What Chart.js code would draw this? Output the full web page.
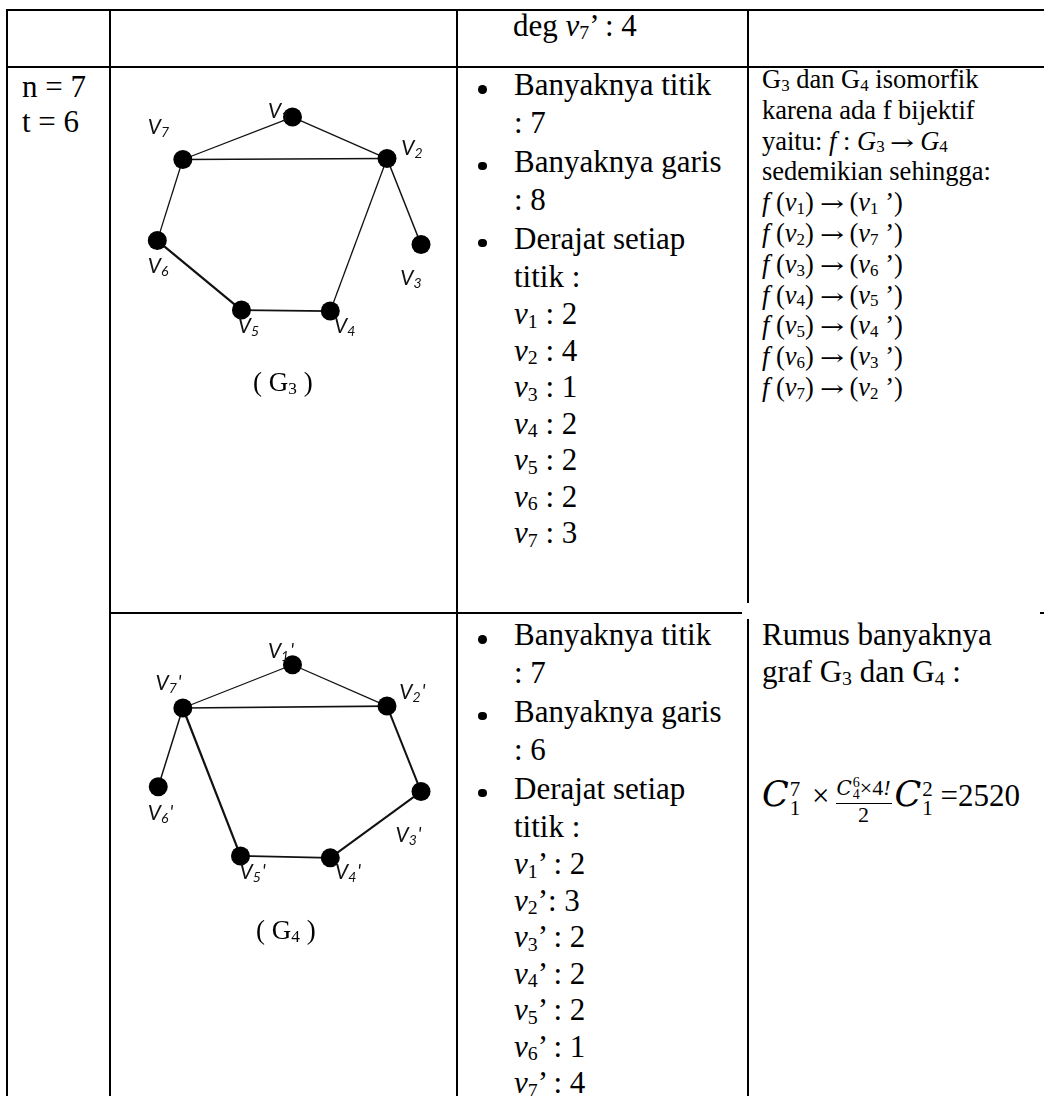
<!DOCTYPE html>
<html>
<head>
<meta charset="utf-8">
<script src="https://cdn.jsdelivr.net/npm/chart.js@4.4.1/dist/chart.umd.min.js"></script>
<style>
html, body { margin: 0; padding: 0; background: #fff; }
body { position: relative; width: 1044px; height: 1096px; overflow: hidden;
       font-family: "Liberation Serif", "Times New Roman", serif; color: #000; }
.ln { position: absolute; background: #000; }
.blk { position: absolute; white-space: nowrap; font-family: "Liberation Serif", serif; }
.sb { font-size: 0.64em; position: relative; top: 0.17em; line-height: 0; }
.ar { display: inline-block; font-family: "DejaVu Serif", serif; font-size: 0.8em; transform: scaleX(1.35); margin: 0 0.42em; }
.c1 { font-size: 31px; line-height: 35px; }
.c3 { font-size: 31px; }
.c3 .a { height: 38.4px; line-height: 38.4px; position: relative; }
.c3 .b { height: 36.5px; line-height: 36.5px; }
.bul { position: absolute; left: -36px; top: 19px; width: 8.5px; height: 8.5px; border-radius: 50%; background: #000; }
.c4 { font-size: 26.5px; }
.c4 div { height: 30.8px; line-height: 30.8px; }
.c4b { font-size: 31px; }
.c4b div { height: 37px; line-height: 37px; }
.cap { position: absolute; font-size: 27px; line-height: 27px; white-space: nowrap; }
canvas { position: absolute; }
.fm { position: absolute; left: 762px; top: 770px; font-size: 31px; line-height: 48px; height: 48px; white-space: nowrap; }
.fm .C { font-family: "DejaVu Serif", serif; font-style: italic; font-size: 35px; }
.fm .Cs { font-family: "DejaVu Serif", serif; font-style: italic; font-size: 20px; }
.scr { display: inline-block; vertical-align: -0.45em; font-size: 21px; line-height: 19px; margin-left: 1px; }
.scr span { display: block; }
.scr.s { font-size: 14px; line-height: 12px; vertical-align: -0.3em; }
.frac { display: inline-block; vertical-align: -0.72em; text-align: center; font-size: 22px; line-height: 22px; margin: 0 3px 0 6px; }
.frac .num { display: block; border-bottom: 1.4px solid #000; padding: 0 1px 2px; }
.frac .den { display: block; }
.fm .x { margin-left: 4px; }
</style>
</head>
<body>

<!-- table rules -->
<div class="ln" style="left:6px;top:9px;width:1038px;height:2px"></div>
<div class="ln" style="left:6px;top:66px;width:1038px;height:2px"></div>
<div class="ln" style="left:6px;top:9px;width:2px;height:1087px"></div>
<div class="ln" style="left:109px;top:9px;width:2px;height:1087px"></div>
<div class="ln" style="left:456px;top:9px;width:2px;height:1087px"></div>
<div class="ln" style="left:747px;top:9px;width:2px;height:594px"></div>
<div class="ln" style="left:747px;top:619px;width:2px;height:477px"></div>
<div class="ln" style="left:109px;top:612px;width:633px;height:2px"></div>
<div class="ln" style="left:1040px;top:612px;width:4px;height:2px"></div>

<!-- column 1 -->
<div class="blk c1" style="left:22px;top:69px">
  <div>n = 7</div>
  <div>t = 6</div>
</div>

<!-- row 1, column 3 -->
<div class="blk c3" style="left:513px;top:8px">
  <div class="b">deg <i>v</i><span class="sb">7</span>’ : 4</div>
</div>

<!-- row 2, column 3 -->
<div class="blk c3" style="left:514px;top:66px">
  <div class="a"><span class="bul"></span>Banyaknya titik</div>
  <div class="a">: 7</div>
  <div class="a"><span class="bul"></span>Banyaknya garis</div>
  <div class="a">: 8</div>
  <div class="a"><span class="bul"></span>Derajat setiap</div>
  <div class="a">titik :</div>
  <div class="b"><i>v</i><span class="sb">1</span> : 2</div>
  <div class="b"><i>v</i><span class="sb">2</span> : 4</div>
  <div class="b"><i>v</i><span class="sb">3</span> : 1</div>
  <div class="b"><i>v</i><span class="sb">4</span> : 2</div>
  <div class="b"><i>v</i><span class="sb">5</span> : 2</div>
  <div class="b"><i>v</i><span class="sb">6</span> : 2</div>
  <div class="b"><i>v</i><span class="sb">7</span> : 3</div>
</div>

<!-- row 3, column 3 -->
<div class="blk c3" style="left:514px;top:616px">
  <div class="a"><span class="bul"></span>Banyaknya titik</div>
  <div class="a">: 7</div>
  <div class="a"><span class="bul"></span>Banyaknya garis</div>
  <div class="a">: 6</div>
  <div class="a"><span class="bul"></span>Derajat setiap</div>
  <div class="a">titik :</div>
  <div class="b"><i>v</i><span class="sb">1</span>’ : 2</div>
  <div class="b"><i>v</i><span class="sb">2</span>’: 3</div>
  <div class="b"><i>v</i><span class="sb">3</span>’ : 2</div>
  <div class="b"><i>v</i><span class="sb">4</span>’ : 2</div>
  <div class="b"><i>v</i><span class="sb">5</span>’ : 2</div>
  <div class="b"><i>v</i><span class="sb">6</span>’ : 1</div>
  <div class="b"><i>v</i><span class="sb">7</span>’ : 4</div>
</div>

<!-- row 2, column 4 -->
<div class="blk c4" style="left:762px;top:64px">
  <div>G<span class="sb">3</span> dan G<span class="sb">4</span> isomorfik</div>
  <div>karena ada f bijektif</div>
  <div>yaitu: <i>f</i> : <i>G</i><span class="sb">3</span><span class="ar">→</span><i>G</i><span class="sb">4</span></div>
  <div>sedemikian sehingga:</div>
  <div><i>f</i> (<i>v</i><span class="sb">1</span>)<span class="ar">→</span>(<i>v</i><span class="sb">1</span> ’)</div>
  <div><i>f</i> (<i>v</i><span class="sb">2</span>)<span class="ar">→</span>(<i>v</i><span class="sb">7</span> ’)</div>
  <div><i>f</i> (<i>v</i><span class="sb">3</span>)<span class="ar">→</span>(<i>v</i><span class="sb">6</span> ’)</div>
  <div><i>f</i> (<i>v</i><span class="sb">4</span>)<span class="ar">→</span>(<i>v</i><span class="sb">5</span> ’)</div>
  <div><i>f</i> (<i>v</i><span class="sb">5</span>)<span class="ar">→</span>(<i>v</i><span class="sb">4</span> ’)</div>
  <div><i>f</i> (<i>v</i><span class="sb">6</span>)<span class="ar">→</span>(<i>v</i><span class="sb">3</span> ’)</div>
  <div><i>f</i> (<i>v</i><span class="sb">7</span>)<span class="ar">→</span>(<i>v</i><span class="sb">2</span> ’)</div>
</div>

<!-- row 3, column 4 -->
<div class="blk c4b" style="left:762px;top:616px">
  <div>Rumus banyaknya</div>
  <div>graf G<span class="sb">3</span> dan G<span class="sb">4</span> :</div>
</div>
<div class="fm">
  <span class="C">C</span><span class="scr"><span>7</span><span>1</span></span>
  <span class="x">×</span><span class="frac"><span class="num"><span class="Cs">C</span><span class="scr s"><span>6</span><span>4</span></span>×4<i>!</i></span><span class="den">2</span></span><span class="C">C</span><span class="scr"><span>2</span><span>1</span></span>
  <span>=2520</span>
</div>

<!-- graphs -->
<canvas id="g3" width="347" height="546" style="left:110px;top:67px"></canvas>
<canvas id="g4" width="347" height="483" style="left:110px;top:613px"></canvas>
<div class="cap" style="left:253px;top:369px">( G<span class="sb">3</span> )</div>
<div class="cap" style="left:256px;top:917px">( G<span class="sb">4</span> )</div>

<script>
// vertex layout (units = cell pixels, origin top-left of the cell)
const vertexNames = ['1', '2', '3', '4', '5', '6', '7'];

const g3NodeX = [183, 283, 319, 223, 129, 40, 67];
const g3NodeY = [42, 85, 174, 243, 242, 170, 86];
const g3LabelX = [157, 298, 297, 227, 125, 30, 30];
const g3LabelY = [43, 81, 216, 266, 266, 204, 60];
const g3Edges = [[0, 6], [0, 1], [6, 1], [6, 5], [5, 4], [4, 3], [3, 1], [1, 2]];

const g4NodeX = [183, 283, 319, 223, 128, 41, 67];
const g4NodeY = [44, 87, 176, 245, 243, 171, 89];
const g4LabelX = [157, 296, 292, 228, 127, 30, 38];
const g4LabelY = [37, 80, 228, 267, 267, 206, 70];
const g4Edges = [[6, 0], [0, 1], [6, 1], [6, 5], [6, 4], [4, 3], [3, 2], [2, 1]];

// line weights per edge (style only)
const g3EdgeWidth = [1.3, 1.3, 1.6, 1.3, 2.2, 1.8, 1.3, 1.5];
const g4EdgeWidth = [1.3, 1.3, 1.6, 1.5, 2.2, 1.8, 2.0, 2.0];

// draws V with subscript (and a prime for G4) next to every vertex
const vertexLabels = {
    id: 'vertexLabels',
    afterDatasetsDraw(chart, args, opts) {
        const { ctx, scales: { x, y } } = chart;
        ctx.save();
        ctx.fillStyle = '#111';
        ctx.textBaseline = 'alphabetic';
        opts.names.forEach((n, i) => {
            let px = x.getPixelForValue(opts.lx[i]);
            const py = y.getPixelForValue(opts.ly[i]);
            ctx.font = 'italic 21px Lato, "Open Sans", sans-serif';
            ctx.fillText('V', px, py);
            px += ctx.measureText('V').width;
            ctx.font = 'italic 14px Lato, "Open Sans", sans-serif';
            ctx.fillText(n, px, py + 3);
            px += ctx.measureText(n).width;
            if (opts.prime) {
                ctx.font = 'italic 19px Lato, "Open Sans", sans-serif';
                ctx.fillText("'", px + 1, py - 1);
            }
        });
        ctx.restore();
    }
};

function createGraph(canvasId, nodeX, nodeY, edges, widths, labelX, labelY, prime) {
    const canvas = document.getElementById(canvasId);
    const datasets = edges.map(([a, b], i) => ({
        type: 'line',
        data: [{ x: nodeX[a], y: nodeY[a] }, { x: nodeX[b], y: nodeY[b] }],
        borderColor: '#111',
        borderWidth: widths[i],
        pointRadius: 0,
        fill: false,
        tension: 0,
        order: 2
    }));
    datasets.push({
        type: 'scatter',
        data: nodeX.map((v, i) => ({ x: v, y: nodeY[i] })),
        backgroundColor: '#000',
        borderColor: '#000',
        borderWidth: 0,
        pointRadius: 9.5,
        pointHoverRadius: 9.5,
        order: 1
    });
    return new Chart(canvas, {
        type: 'scatter',
        data: { datasets },
        options: {
            responsive: false,
            animation: false,
            events: [],
            layout: { padding: 0 },
            scales: {
                x: { type: 'linear', min: 0, max: canvas.width, display: false },
                y: { type: 'linear', min: 0, max: canvas.height, reverse: true, display: false }
            },
            plugins: {
                legend: { display: false },
                tooltip: { enabled: false },
                vertexLabels: { names: vertexNames, lx: labelX, ly: labelY, prime }
            }
        },
        plugins: [vertexLabels]
    });
}

createGraph('g3', g3NodeX, g3NodeY, g3Edges, g3EdgeWidth, g3LabelX, g3LabelY, false);
createGraph('g4', g4NodeX, g4NodeY, g4Edges, g4EdgeWidth, g4LabelX, g4LabelY, true);
</script>
</body>
</html>
